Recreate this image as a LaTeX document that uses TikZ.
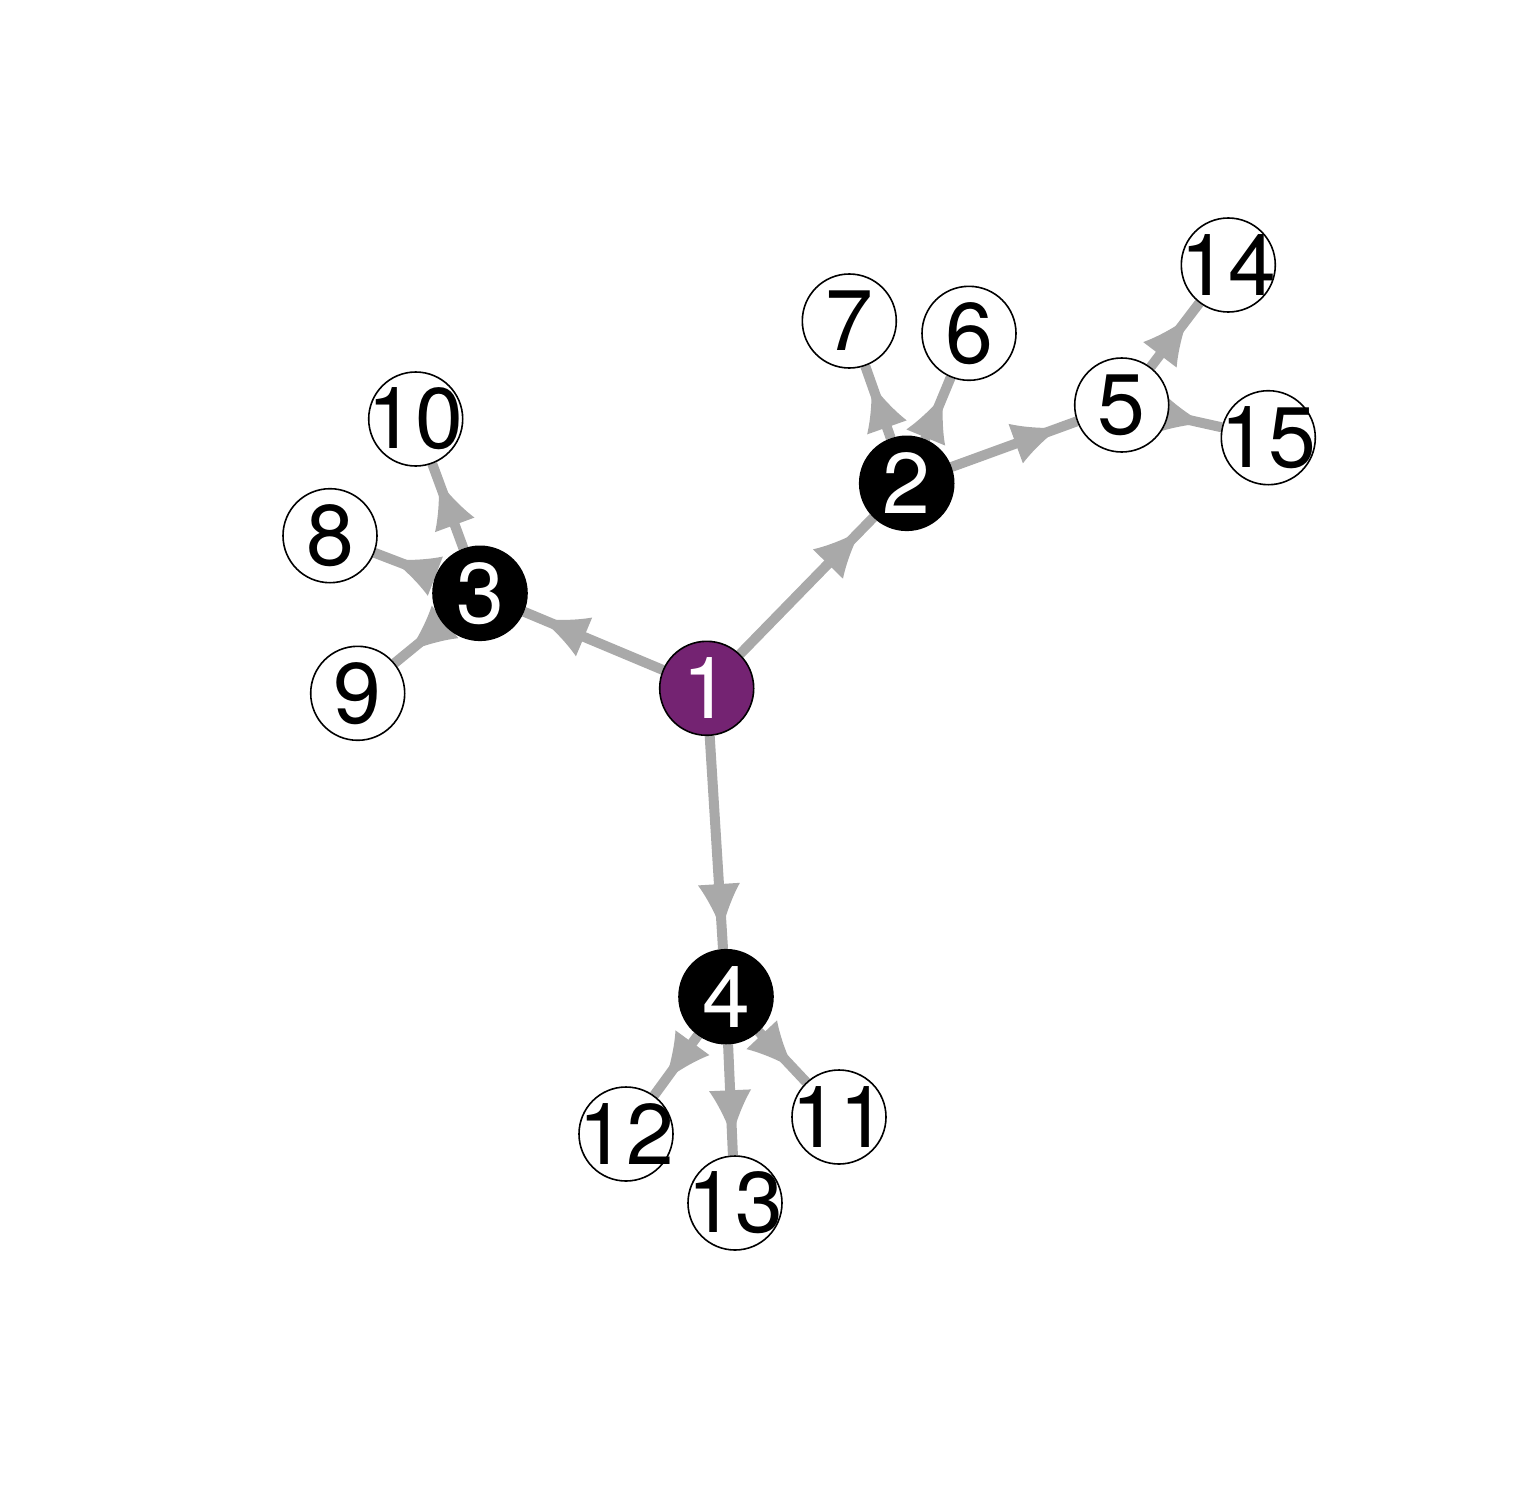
\documentclass[tikz,border=0pt]{standalone}
\usepackage{fontspec}
\setmainfont{TeX Gyre Heros}
\usetikzlibrary{decorations.markings,backgrounds}

\definecolor{edgegray}{RGB}{169,169,169}
\definecolor{rootpurple}{RGB}{116,35,114}

\tikzset{
  vtx/.style={circle, draw=black, line width=1.6pt, minimum size=94pt, inner sep=0pt},
  num/.style={font=\fontsize{86}{86}\selectfont, inner sep=0pt},
  leaf/.style={vtx, fill=white, label={[num]center:#1}},
  hub/.style={vtx, fill=black, label={[num, text=white]center:#1}},
  root/.style={vtx, fill=rootpurple, label={[num, text=white]center:#1}},
  link/.style={draw=edgegray, line width=10pt, postaction={decorate},
    decoration={markings, mark=at position -19pt with {
      \fill[edgegray] (0pt,0pt) .. controls (-15pt,5pt) and (-32pt,12pt) .. (-46pt,21pt)
        -- (-46pt,-21pt) .. controls (-32pt,-12pt) and (-15pt,-5pt) .. (0pt,0pt) -- cycle;}}}
}

\begin{document}
\begin{tikzpicture}[x=1pt,y=-1pt]
\useasboundingbox (0,0) rectangle (1512,1512);

% Vertices
\node[root=1] (n1) at (706.7,688.3) {};
\node[hub=2] (n2) at (906.7,483.3) {};
\node[hub=3] (n3) at (480,593.3) {};
\node[hub=4] (n4) at (726,996.7) {};
\node[leaf=5] (n5) at (1121.7,405) {};
\node[leaf=6] (n6) at (969,333.3) {};
\node[leaf=7] (n7) at (849.3,321) {};
\node[leaf=8] (n8) at (330,535.7) {};
\node[leaf=9] (n9) at (357.7,693.3) {};
\node[leaf=10] (n10) at (415.7,419) {};
\node[leaf=11] (n11) at (839,1117) {};
\node[leaf=12] (n12) at (626,1134) {};
\node[leaf=13] (n13) at (735,1203) {};
\node[leaf=14] (n14) at (1228.3,265) {};
\node[leaf=15] (n15) at (1268.3,437.7) {};

% Edges
\begin{scope}[on background layer]
\foreach \a/\b in {1/2,1/3,1/4,2/5,2/6,2/7,3/8,3/9,3/10,4/11,4/12,4/13,5/14,5/15}
  \draw[link] (n\a) -- (n\b);
\end{scope}

\end{tikzpicture}
\end{document}
